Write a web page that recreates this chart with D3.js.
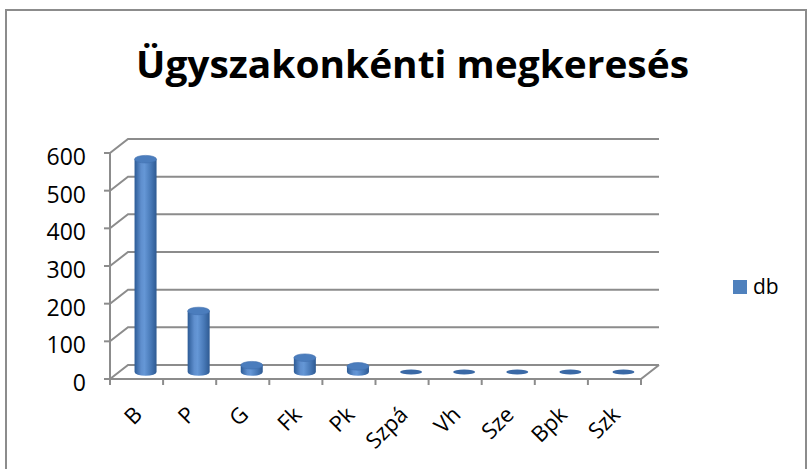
<!DOCTYPE html>
<html>
<head>
<meta charset="utf-8">
<script src="https://cdn.jsdelivr.net/npm/d3@7"></script>
<style>
  body { margin: 0; background: #fff; }
  svg { display: block; font-family: "Open Sans", "Noto Sans", sans-serif; }
</style>
</head>
<body>
<svg id="viz" width="807" height="469"></svg>
<script>
var categories = ["B", "P", "G", "Fk", "Pk", "Szpá", "Vh", "Sze", "Bpk", "Szk"]
var values = [565, 162, 18, 38, 15, 0, 0, 0, 0, 0]
var yTicks = [0, 100, 200, 300, 400, 500, 600]
var seriesName = "db"
var title = "Ügyszakonkénti megkeresés"

let depthX = 18
let depthY = -14
let barRx = 11
let barRy = 3.8
let blue = "#4f81bd"
let grid = "#8c8c8c"

let viz = d3.select("#viz")

// outer chart border
viz.append("rect")
    .attr("x", 6).attr("y", 10)
    .attr("width", 800).attr("height", 480)
    .style("fill", "none")
    .style("stroke", "#8c8c8c")
    .style("stroke-width", 2)

viz.append("text")
    .text(title)
    .attr("x", 136).attr("y", 78)
    .attr("font-size", 37)
    .attr("font-weight", "bold")
    .attr("textLength", 553)
    .attr("lengthAdjust", "spacingAndGlyphs")

// front scales (the back wall is shifted by the depth offset)
let x = d3.scaleBand().domain(categories).range([110, 641])
let y = d3.scaleLinear().domain([0, 600]).range([379, 153])

let defs = viz.append("defs")
let grad = defs.append("linearGradient").attr("id", "cyl").attr("x1", "0").attr("x2", "1").attr("y1", "0").attr("y2", "0")
grad.append("stop").attr("offset", "0%").attr("stop-color", "#2c5b96")
grad.append("stop").attr("offset", "30%").attr("stop-color", "#5f8fce")
grad.append("stop").attr("offset", "45%").attr("stop-color", "#6597d6")
grad.append("stop").attr("offset", "75%").attr("stop-color", "#4778b6")
grad.append("stop").attr("offset", "100%").attr("stop-color", "#2e5a92")

let gGrid = viz.append("g").attr("id", "grid")
    .style("stroke", grid).style("stroke-width", 2).style("fill", "none")

// back wall gridlines with the bend on the left wall
gGrid.selectAll("path.grid")
    .data(yTicks)
    .enter().append("path")
    .attr("class", "grid")
    .attr("d", v => `M${x.range()[0]},${y(v)} L${x.range()[0] + depthX},${y(v) + depthY} L${x.range()[1] + depthX},${y(v) + depthY}`)

// floor front edge and right edge
gGrid.append("path")
    .attr("d", `M${x.range()[0]},${y(0)} L${x.range()[1]},${y(0)} L${x.range()[1] + depthX},${y(0) + depthY}`)

// value axis line
gGrid.append("line")
    .attr("x1", x.range()[0]).attr("x2", x.range()[0])
    .attr("y1", y(600)).attr("y2", y(0))

gGrid.selectAll("line.ytick")
    .data(yTicks)
    .enter().append("line")
    .attr("class", "ytick")
    .attr("x1", x.range()[0] - 6).attr("x2", x.range()[0])
    .attr("y1", v => y(v)).attr("y2", v => y(v))

let xTickPos = categories.map(c => x(c)).concat([x.range()[1]])
gGrid.selectAll("line.xtick")
    .data(xTickPos)
    .enter().append("line")
    .attr("class", "xtick")
    .attr("x1", d => d).attr("x2", d => d)
    .attr("y1", y(0)).attr("y2", y(0) + 6)

viz.append("g").attr("id", "ylabels")
    .selectAll("text")
    .data(yTicks)
    .enter().append("text")
    .text(v => v)
    .attr("x", 86)
    .attr("y", v => y(v) + 12)
    .attr("text-anchor", "end")
    .attr("font-size", 23)

viz.append("g").attr("id", "xlabels")
    .selectAll("text")
    .data(categories)
    .enter().append("text")
    .text(c => c)
    .attr("text-anchor", "end")
    .attr("font-size", 22)
    .attr("transform", c => `translate(${x(c) + x.bandwidth() / 2 + 7},${y(0) + 37}) rotate(-45)`)

// cylinders stand at mid depth
let bars = viz.append("g").attr("id", "bars")
    .selectAll("g")
    .data(categories.map((c, i) => ({cat: c, value: values[i]})))
    .enter().append("g")

bars.each(function (d) {
    let g = d3.select(this)
    let cx = x(d.cat) + x.bandwidth() / 2 + depthX / 2
    let base = y(0) + depthY / 2
    let top = y(d.value) + depthY / 2
    if (d.value > 0) {
        g.append("path")
            .attr("d", `M${cx - barRx},${top} V${base} A${barRx},${barRy} 0 0 0 ${cx + barRx},${base} V${top} Z`)
            .style("fill", "url(#cyl)")
        g.append("ellipse")
            .attr("cx", cx).attr("cy", top)
            .attr("rx", barRx).attr("ry", barRy)
            .style("fill", "#4b7dbd")
            .style("stroke", "#3f6fae")
            .style("stroke-width", 0.6)
    } else {
        g.append("ellipse")
            .attr("cx", cx).attr("cy", base)
            .attr("rx", barRx).attr("ry", 2.5)
            .style("fill", "#3a69a6")
    }
})

let legend = viz.append("g").attr("id", "legend")
legend.append("rect")
    .attr("x", 733).attr("y", 280)
    .attr("width", 14).attr("height", 14)
    .style("fill", blue)
legend.append("text")
    .text(seriesName)
    .attr("x", 753).attr("y", 294)
    .attr("font-size", 21)
</script>
</body>
</html>
